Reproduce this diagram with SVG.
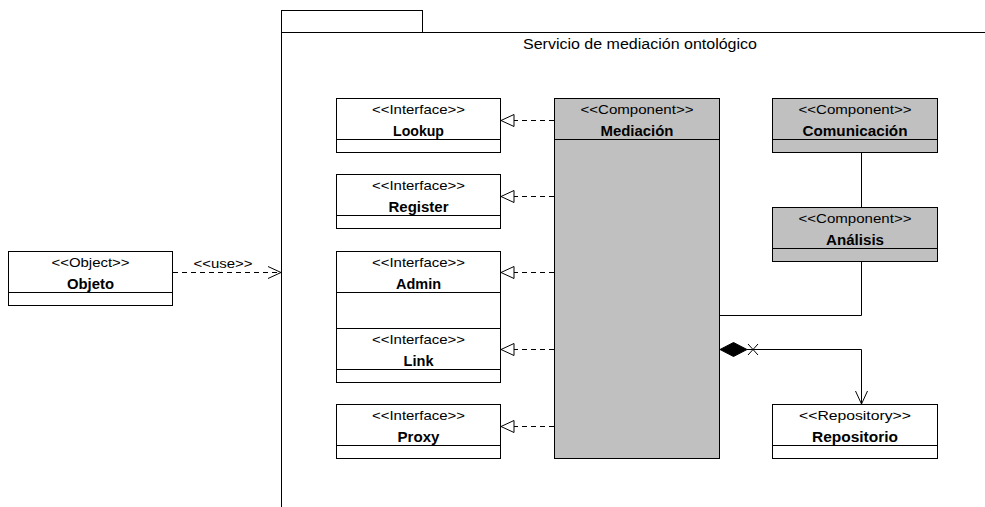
<svg xmlns="http://www.w3.org/2000/svg" width="985" height="507" viewBox="0 0 985 507">
  <style>
    .box { fill: #ffffff; stroke: #000000; stroke-width: 1; }
    .comp { fill: #c0c0c0; stroke: #000000; stroke-width: 1; }
    .line { fill: none; stroke: #000000; stroke-width: 1; }
    .dash { fill: none; stroke: #000000; stroke-width: 1; stroke-dasharray: 5 4; }
    .st { font-family: "Liberation Sans", Arial, sans-serif; font-size: 13px; text-anchor: middle; fill: #000; }
    .nm { font-family: "Liberation Sans", Arial, sans-serif; font-size: 14px; font-weight: bold; text-anchor: middle; fill: #000; }
    .tt { font-family: "Liberation Sans", Arial, sans-serif; font-size: 14px; text-anchor: middle; fill: #000; }
  </style>
  <defs>
    <!-- hollow triangle, tip at the path end -->
    <marker id="realize" markerWidth="16" markerHeight="14" refX="14" refY="7" orient="auto" markerUnits="userSpaceOnUse">
      <path d="M1,1 L14,7 L1,13 Z" fill="#ffffff" stroke="#000000" stroke-width="1"/>
    </marker>
    <marker id="open" markerWidth="16" markerHeight="14" refX="14" refY="7" orient="auto" markerUnits="userSpaceOnUse">
      <path d="M1,1 L14,7 L1,13" fill="none" stroke="#000000" stroke-width="1"/>
    </marker>
  </defs>

  <!-- package frame -->
  <g id="package">
    <rect x="281.5" y="10.5" width="141" height="22" class="box"/>
    <path d="M281.5,32.5 H985 M281.5,32.5 V507" class="line"/>
    <text x="640" y="49" class="tt" textLength="234" lengthAdjust="spacingAndGlyphs">Servicio de mediación ontológico</text>
  </g>

  <!-- interfaces -->
  <g id="lookup">
    <rect x="336.5" y="98.5" width="164" height="54" class="box"/>
    <path d="M336.5,139.5 H500.5" class="line"/>
    <text x="418.5" y="114" class="st" textLength="93" lengthAdjust="spacingAndGlyphs">&lt;&lt;Interface&gt;&gt;</text>
    <text x="418.5" y="136" class="nm" textLength="51" lengthAdjust="spacingAndGlyphs">Lookup</text>
  </g>
  <g id="register">
    <rect x="336.5" y="174.5" width="164" height="54" class="box"/>
    <path d="M336.5,215.5 H500.5" class="line"/>
    <text x="418.5" y="190" class="st" textLength="93" lengthAdjust="spacingAndGlyphs">&lt;&lt;Interface&gt;&gt;</text>
    <text x="418.5" y="212" class="nm" textLength="60" lengthAdjust="spacingAndGlyphs">Register</text>
  </g>
  <g id="admin">
    <rect x="336.5" y="251.5" width="164" height="77" class="box"/>
    <path d="M336.5,292.5 H500.5" class="line"/>
    <text x="418.5" y="267" class="st" textLength="93" lengthAdjust="spacingAndGlyphs">&lt;&lt;Interface&gt;&gt;</text>
    <text x="418.5" y="289" class="nm" textLength="45" lengthAdjust="spacingAndGlyphs">Admin</text>
  </g>
  <g id="link">
    <rect x="336.5" y="328.5" width="164" height="54" class="box"/>
    <path d="M336.5,369.5 H500.5" class="line"/>
    <text x="418.5" y="344" class="st" textLength="93" lengthAdjust="spacingAndGlyphs">&lt;&lt;Interface&gt;&gt;</text>
    <text x="418.5" y="366" class="nm" textLength="30" lengthAdjust="spacingAndGlyphs">Link</text>
  </g>
  <g id="proxy">
    <rect x="336.5" y="404.5" width="164" height="54" class="box"/>
    <path d="M336.5,445.5 H500.5" class="line"/>
    <text x="418.5" y="420" class="st" textLength="93" lengthAdjust="spacingAndGlyphs">&lt;&lt;Interface&gt;&gt;</text>
    <text x="418.5" y="442" class="nm" textLength="42" lengthAdjust="spacingAndGlyphs">Proxy</text>
  </g>

  <!-- components -->
  <g id="mediacion">
    <rect x="554.5" y="98.5" width="165" height="360" class="comp"/>
    <path d="M554.5,139.5 H719.5" class="line"/>
    <text x="637" y="114" class="st" textLength="113" lengthAdjust="spacingAndGlyphs">&lt;&lt;Component&gt;&gt;</text>
    <text x="637" y="136" class="nm" textLength="73" lengthAdjust="spacingAndGlyphs">Mediación</text>
  </g>
  <g id="comunicacion">
    <rect x="772.5" y="98.5" width="165" height="54" class="comp"/>
    <path d="M772.5,139.5 H937.5" class="line"/>
    <text x="855" y="114" class="st" textLength="113" lengthAdjust="spacingAndGlyphs">&lt;&lt;Component&gt;&gt;</text>
    <text x="855" y="136" class="nm" textLength="105" lengthAdjust="spacingAndGlyphs">Comunicación</text>
  </g>
  <g id="analisis">
    <rect x="772.5" y="207.5" width="165" height="54" class="comp"/>
    <path d="M772.5,248.5 H937.5" class="line"/>
    <text x="855" y="223" class="st" textLength="113" lengthAdjust="spacingAndGlyphs">&lt;&lt;Component&gt;&gt;</text>
    <text x="855" y="245" class="nm" textLength="58" lengthAdjust="spacingAndGlyphs">Análisis</text>
  </g>
  <g id="repositorio">
    <rect x="772.5" y="404.5" width="165" height="54" class="box"/>
    <path d="M772.5,445.5 H937.5" class="line"/>
    <text x="855" y="420" class="st" textLength="112" lengthAdjust="spacingAndGlyphs">&lt;&lt;Repository&gt;&gt;</text>
    <text x="855" y="442" class="nm" textLength="86" lengthAdjust="spacingAndGlyphs">Repositorio</text>
  </g>

  <!-- external object -->
  <g id="objeto">
    <rect x="8.5" y="251.5" width="164" height="54" class="box"/>
    <path d="M8.5,292.5 H172.5" class="line"/>
    <text x="90.5" y="267" class="st" textLength="78" lengthAdjust="spacingAndGlyphs">&lt;&lt;Object&gt;&gt;</text>
    <text x="90.5" y="289" class="nm" textLength="47" lengthAdjust="spacingAndGlyphs">Objeto</text>
  </g>

  <!-- connectors -->
  <g id="connectors">
    <!-- realizations: Mediación implements each interface -->
    <path d="M554,120.5 H501" class="dash" marker-end="url(#realize)"/>
    <path d="M554,196.5 H501" class="dash" marker-end="url(#realize)"/>
    <path d="M554,272.5 H501" class="dash" marker-end="url(#realize)"/>
    <path d="M554,349.5 H501" class="dash" marker-end="url(#realize)"/>
    <path d="M554,426.5 H501" class="dash" marker-end="url(#realize)"/>

    <!-- use dependency -->
    <path d="M173,272.5 H281" class="dash" marker-end="url(#open)"/>
    <text x="223" y="268" class="st" textLength="59" lengthAdjust="spacingAndGlyphs">&lt;&lt;use&gt;&gt;</text>

    <!-- Comunicación - Análisis - Mediación -->
    <path d="M861.5,152.5 V207.5" class="line"/>
    <path d="M861.5,261.5 V315.5 H719.5" class="line"/>

    <!-- composition to Repositorio -->
    <path d="M747,349.5 H861.5 V404" class="line" marker-end="url(#open)"/>
    <path d="M720,349.5 L733.5,342.5 L747,349.5 L733.5,356.5 Z" fill="#000000" stroke="#000000" stroke-width="1"/>
    <path d="M748,344 L758,355 M758,344 L748,355" class="line"/>
  </g>
</svg>
